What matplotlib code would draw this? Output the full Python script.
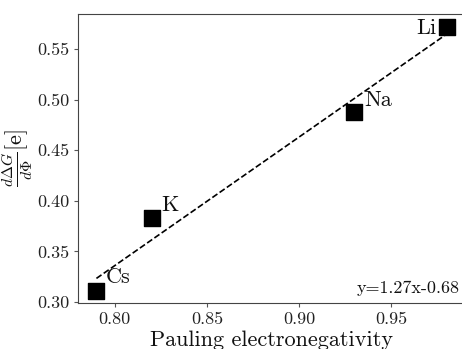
import matplotlib
matplotlib.use("Agg")
import matplotlib.pyplot as plt

plt.rcParams['font.family'] = 'serif'
plt.rcParams['font.serif'] = ['cmr10']
plt.rcParams['mathtext.fontset'] = 'cm'
plt.rcParams['axes.formatter.use_mathtext'] = True

elements = ["Cs", "K", "Na", "Li"]
electronegativity = [0.79, 0.82, 0.93, 0.98]
dG_dphi = [0.311, 0.383, 0.488, 0.572]
fit_slope = 1.27
fit_intercept = -0.68

fig = plt.figure(figsize=(4.62, 3.49), dpi=100)
ax = fig.add_axes([78 / 462, 1 - 303 / 349, 387 / 462, 289 / 349])

ax.scatter(electronegativity, dG_dphi, marker='s', s=130, color='black', zorder=3)

x_fit = [min(electronegativity), max(electronegativity)]
y_fit = [fit_slope * x + fit_intercept for x in x_fit]
ax.plot(x_fit, y_fit, '--', color='black', lw=1.2)

offsets = {"Cs": (7, 3, 'left', 'bottom'),
           "K": (7, 2, 'left', 'bottom'),
           "Na": (7, 1, 'left', 'bottom'),
           "Li": (-7, -1, 'right', 'center')}
for name, x, y in zip(elements, electronegativity, dG_dphi):
    dx, dy, ha, va = offsets[name]
    ax.annotate(name, (x, y), xytext=(dx, dy), textcoords='offset points',
                ha=ha, va=va, fontsize=16, color='#111111')

ax.text(0.985, 0.025, "y=1.27x-0.68", transform=ax.transAxes, fontsize=13,
        ha='right', va='bottom', color='#111111')

ax.set_xlim(0.78, 0.99)
ax.set_ylim(0.299, 0.5845)
ax.set_xticks([0.80, 0.85, 0.90, 0.95])
ax.set_yticks([0.30, 0.35, 0.40, 0.45, 0.50, 0.55])
ax.set_xticklabels(["0.80", "0.85", "0.90", "0.95"])
ax.set_yticklabels(["0.30", "0.35", "0.40", "0.45", "0.50", "0.55"])
ax.tick_params(labelsize=13, color='#555555', length=3, pad=3, labelcolor='#222222')
for s in ax.spines.values():
    s.set_color('#444444')
ax.spines['right'].set_visible(False)

ax.set_xlabel("Pauling electronegativity", fontsize=16, labelpad=2.5, color='#111111')
ax.set_ylabel(r"$\frac{d\Delta G}{d\Phi}[\mathrm{e}]$", fontsize=16, labelpad=2, color='#111111')

fig.savefig("out.png", dpi=100)
